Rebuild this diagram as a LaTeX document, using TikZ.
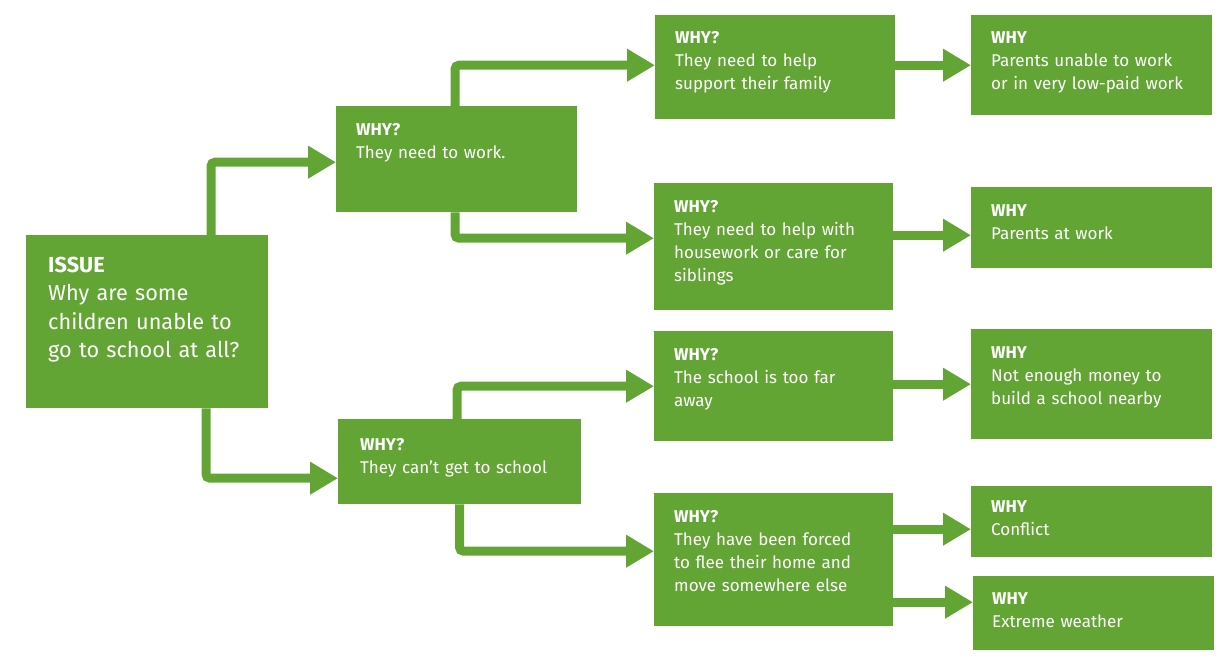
\documentclass[tikz,border=0pt]{standalone}
\usepackage{fontspec}
\setmainfont{Fira Sans}
\usetikzlibrary{arrows.meta}
\definecolor{leaf}{RGB}{99,165,53}
\tikzset{
  box/.style={fill=leaf, draw=none, rectangle, inner sep=0pt, anchor=north west},
  txt/.style={text=white, inner sep=0pt, anchor=base west, align=left, text width=218pt,
    font=\fontsize{17}{23}\selectfont},
  bigtxt/.style={txt, font=\fontsize{21.7}{28.5}\selectfont},
  arr/.style={draw=leaf, line width=9pt, rounded corners=4pt,
    -{Triangle[length=28pt,width=31pt]}},
}
\begin{document}
\begin{tikzpicture}[x=1pt,y=-1pt]
\useasboundingbox (0,0) rectangle (1220,659);
% boxes
\node[box, minimum width=242pt, minimum height=173pt] (A) at (26,235) {};
\node[box, minimum width=241pt, minimum height=106pt] (B) at (336,106) {};
\node[box, minimum width=243pt, minimum height=85pt]  (C) at (338,419) {};
\node[box, minimum width=240pt, minimum height=104pt] (D) at (655,15) {};
\node[box, minimum width=239pt, minimum height=127pt] (E) at (654,183) {};
\node[box, minimum width=239pt, minimum height=110pt] (F) at (654,331) {};
\node[box, minimum width=239pt, minimum height=133pt] (G) at (654,493) {};
\node[box, minimum width=241pt, minimum height=100pt] (H) at (971,15) {};
\node[box, minimum width=241pt, minimum height=81pt]  (I) at (971,187) {};
\node[box, minimum width=241pt, minimum height=110pt] (J) at (971,329) {};
\node[box, minimum width=241pt, minimum height=71pt]  (K) at (971,486) {};
\node[box, minimum width=241pt, minimum height=74pt]  (L) at (973,576) {};
% texts
\node[bigtxt] (tA) at ([xshift=22pt,yshift=-37pt]A.north west) {\textbf{ISSUE}\\Why are some\\children unable to\\go to school at all?};
\node[txt] (tB) at ([xshift=20pt,yshift=-29pt]B.north west) {\textbf{WHY?}\\They need to work.};
\node[txt] (tC) at ([xshift=22pt,yshift=-31pt]C.north west) {\textbf{WHY?}\\They can’t get to school};
\node[txt] (tD) at ([xshift=20pt,yshift=-28pt]D.north west) {\textbf{WHY?}\\They need to help\\support their family};
\node[txt] (tE) at ([xshift=20pt,yshift=-29pt]E.north west) {\textbf{WHY?}\\They need to help with\\housework or care for\\siblings};
\node[txt] (tF) at ([xshift=20pt,yshift=-29pt]F.north west) {\textbf{WHY?}\\The school is too far\\away};
\node[txt] (tG) at ([xshift=20pt,yshift=-29pt]G.north west) {\textbf{WHY?}\\They have been forced\\to flee their home and\\move somewhere else};
\node[txt] (tH) at ([xshift=20pt,yshift=-28pt]H.north west) {\textbf{WHY}\\Parents unable to work\\or in very low-paid work};
\node[txt] (tI) at ([xshift=20pt,yshift=-29pt]I.north west) {\textbf{WHY}\\Parents at work};
\node[txt] (tJ) at ([xshift=20pt,yshift=-29pt]J.north west) {\textbf{WHY}\\Not enough money to\\build a school nearby};
\node[txt] (tK) at ([xshift=20pt,yshift=-26pt]K.north west) {\textbf{WHY}\\Conflict};
\node[txt] (tL) at ([xshift=19pt,yshift=-28pt]L.north west) {\textbf{WHY}\\Extreme weather};
% arrows
\draw[arr] ([xshift=185pt]A.north west) |- ([yshift=-3pt]B.west);
\draw[arr] ([xshift=180pt]A.south west) |- ([yshift=-16.5pt]C.west);
\draw[arr] ([xshift=119pt]B.north west) |- ([yshift=2pt]D.west);
\draw[arr] ([xshift=119pt]B.south west) |- ([yshift=8.5pt]E.west);
\draw[arr] ([xshift=119pt]C.north west) |- (F.west);
\draw[arr] ([xshift=121.5pt]C.south west) |- ([yshift=8.5pt]G.west);
\draw[arr] (D.east |- H.west) -- (H.west);
\draw[arr] ([yshift=-7.5pt]E.east |- I.west) -- ([yshift=-7.5pt]I.west);
\draw[arr] (F.east |- J.west) -- (J.west);
\draw[arr] ([yshift=-7.5pt]G.east |- K.west) -- ([yshift=-7.5pt]K.west);
\draw[arr] ([yshift=11pt]G.east |- L.west) -- ([yshift=11pt]L.west);
\end{tikzpicture}
\end{document}
